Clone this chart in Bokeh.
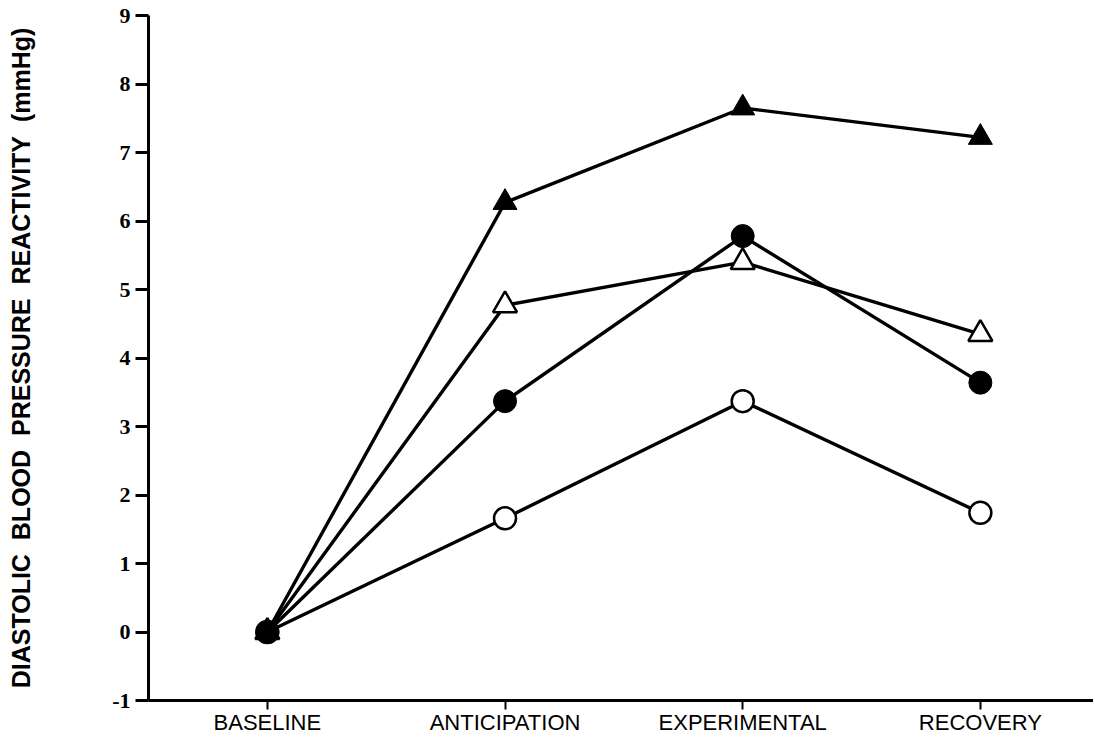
from bokeh.plotting import figure
from bokeh.models import FixedTicker, Range1d
from bokeh.embed import file_html
from bokeh.resources import INLINE

categories = ["BASELINE", "ANTICIPATION", "EXPERIMENTAL", "RECOVERY"]
filled_triangle = [0.0, 6.27, 7.65, 7.22]
open_triangle = [0.0, 4.77, 5.40, 4.35]
filled_circle = [0.0, 3.37, 5.78, 3.64]
open_circle = [0.0, 1.66, 3.37, 1.74]
y_ticks = [-1, 0, 1, 2, 3, 4, 5, 6, 7, 8, 9]
y_tick_labels = ["-1", "0", "1", "2", "3", "4", "5", "6", "7", "8", "9"]

xs = [i + 1 for i in range(len(categories))]

p = figure(frame_width=945, frame_height=685, output_backend="svg", toolbar_location=None,
           x_range=Range1d(0.5, 4.476), y_range=Range1d(-1, 9),
           min_border_left=148, min_border_right=0, min_border_top=15, min_border_bottom=40)
p.outline_line_color = None
p.xgrid.visible = False
p.ygrid.visible = False
p.background_fill_color = "white"
p.border_fill_color = "white"

# y axis
ya = p.yaxis[0]
ya.ticker = FixedTicker(ticks=y_ticks)
ya.major_label_overrides = {t: s for t, s in zip(y_ticks, y_tick_labels)}
ya.axis_line_width = 3
ya.axis_line_color = "black"
ya.major_tick_line_width = 3
ya.major_tick_out = 13
ya.major_tick_in = 0
ya.minor_tick_line_color = None
ya.major_label_standoff = 5
ya.major_label_text_font = "Liberation Serif"
ya.major_label_text_font_style = "bold"
ya.major_label_text_font_size = "22px"
ya.major_label_text_color = "black"
ya.axis_label = "DIASTOLIC\u00a0 BLOOD\u00a0 PRESSURE\u00a0 REACTIVITY\u00a0 (mmHg)"
ya.axis_label_text_font = "Liberation Sans"
ya.axis_label_text_font_style = "bold"
ya.axis_label_text_font_size = "25px"
ya.axis_label_text_color = "black"
ya.axis_label_standoff = 74

# x axis
xa = p.xaxis[0]
xa.ticker = FixedTicker(ticks=xs)
xa.major_label_overrides = {x: c for x, c in zip(xs, categories)}
xa.axis_line_width = 3
xa.axis_line_color = "black"
xa.major_tick_line_width = 2
xa.major_tick_out = 9
xa.major_tick_in = 0
xa.minor_tick_line_color = None
xa.major_label_standoff = 0
xa.major_label_text_font = "Liberation Sans"
xa.major_label_text_font_size = "22px"
xa.major_label_text_color = "black"

lw = 3.4
for ys in [open_circle, filled_circle, open_triangle, filled_triangle]:
    p.line(xs, ys, line_color="black", line_width=lw)

p.scatter(xs, open_circle, marker="circle", size=22, fill_color="white", line_color="black", line_width=2.5)
p.scatter(xs, filled_circle, marker="circle", size=23, fill_color="black", line_color="black")
p.scatter(xs, open_triangle, marker="triangle", size=24, fill_color="white", line_color="black", line_width=2.5)
p.scatter(xs, filled_triangle, marker="triangle", size=24, fill_color="black", line_color="black")

open("out.html", "w").write(file_html(p, INLINE))
